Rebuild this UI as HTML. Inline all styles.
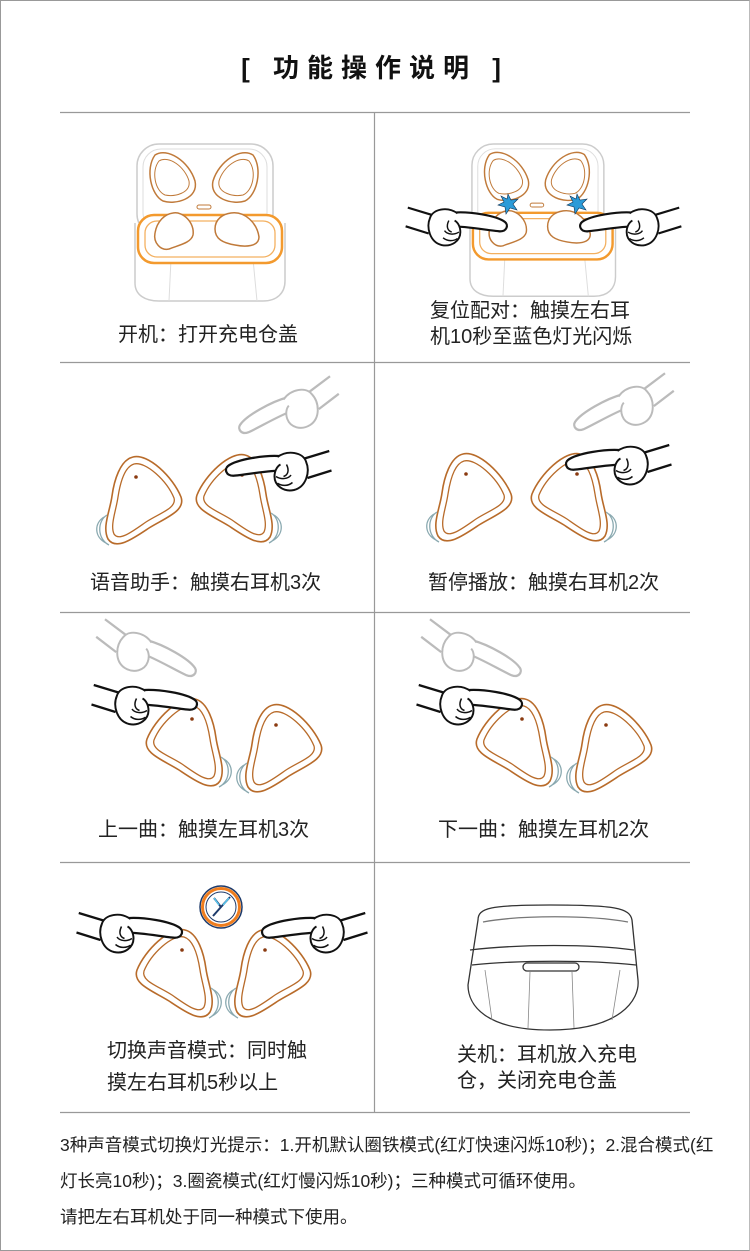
<!DOCTYPE html>
<html><head><meta charset="utf-8"><style>
html,body{margin:0;padding:0;background:#fff}
body{width:750px;height:1251px;position:relative;overflow:hidden;font-family:"Liberation Sans","Noto Sans CJK SC",sans-serif;color:#222}
.frame{position:absolute;left:0;top:0;width:748px;height:1249px;border:1px solid #999;border-right-color:#bbb}
.t{position:absolute;white-space:nowrap}
svg{position:absolute;left:0;top:0}
</style></head><body>
<div class="frame"></div>
<svg width="750" height="1251" viewBox="0 0 750 1251">
<defs>
 <g id="bud">
  <path d="M30,2 C45,-2 70,22 78,42 C83,56 62,63 46,73 C31,83 13,96 5,84 C-1,72 7,56 9,41 C11,26 17,5 30,2 Z" fill="#fff" stroke="#b86b2a" stroke-width="1.6"/>
  <path d="M31,9 C43,6 64,26 71,43 C74,53 57,58 43,67 C30,76 16,87 11,79 C7,70 13,56 15,42 C17,29 21,12 31,9 Z" fill="none" stroke="#b86b2a" stroke-width="1.3"/>
  <circle cx="33" cy="22" r="1.8" fill="#8a3a10"/>
  <path d="M4,60 C-6,66 -6,84 6,90 M1,62 C-9,68 -9,82 3,88" fill="none" stroke="#8aa9b0" stroke-width="1.3"/>
 </g>
 <g id="hand">
  <path d="M0,0 C12,-9 50,-15 72,-13 L74,6 C52,6 22,12 7,13 C-3,13 -5,4 0,0 Z" fill="#fff" stroke="#111" stroke-width="3"/>
  <path d="M66,-12 C80,-22 100,-18 104,-6 C110,8 104,28 88,32 C74,35 62,26 62,14 C62,6 66,0 70,-2" fill="#fff" stroke="#111" stroke-width="2.6"/>
  <path d="M64,14 C70,18 80,18 84,12 M66,23 C72,27 80,27 86,22 M78,-2 C82,6 80,12 74,14" fill="none" stroke="#111" stroke-width="2"/>
  <path d="M102,-10 L135,-20 M106,16 L138,6" stroke="#111" stroke-width="3"/>
 </g>
 <g id="handg">
  <path d="M0,0 C12,-9 50,-15 72,-13 L74,6 C52,6 22,12 7,13 C-3,13 -5,4 0,0 Z" fill="#fff" stroke="#bbb" stroke-width="3"/>
  <path d="M66,-12 C80,-22 100,-18 104,-6 C110,8 104,28 88,32 C74,35 62,26 62,14 C62,6 66,0 70,-2" fill="#fff" stroke="#bbb" stroke-width="2.6"/>
  <path d="M102,-10 L135,-20 M106,16 L138,6" stroke="#bbb" stroke-width="3"/>
 </g>
 <g id="case">
  <rect x="2" y="1" width="136" height="92" rx="22" fill="#fff" stroke="#ccc" stroke-width="1.5"/>
  <rect x="8" y="6" width="124" height="82" rx="18" fill="none" stroke="#ddd" stroke-width="1"/>
  <path d="M0,80 L0,140 C0,152 10,158 24,158 L128,158 C142,158 150,150 150,138 L150,80" fill="#fff" stroke="#ccc" stroke-width="1.5"/>
  <path d="M36,116 L34,158 M118,116 L122,158" stroke="#ddd" stroke-width="1"/>
  <rect x="3" y="72" width="144" height="48" rx="16" fill="#fff" stroke="#f39a2e" stroke-width="2.5"/>
  <rect x="10" y="78" width="130" height="36" rx="12" fill="none" stroke="#f3b060" stroke-width="1.3"/>
  <path d="M20,12 C32,4 54,18 60,38 C64,56 40,62 28,58 C16,52 10,26 20,12 Z" fill="#fff" stroke="#c07a3a" stroke-width="1.5"/>
  <path d="M24,18 C34,12 50,24 54,38 C56,50 40,54 30,52 C20,48 16,28 24,18 Z" fill="none" stroke="#c07a3a" stroke-width="1"/>
  <path d="M118,12 C106,4 84,18 78,38 C74,56 98,62 110,58 C122,52 128,26 118,12 Z" fill="#fff" stroke="#c07a3a" stroke-width="1.5"/>
  <path d="M114,18 C104,12 88,24 84,38 C82,50 98,54 108,52 C118,48 122,28 114,18 Z" fill="none" stroke="#c07a3a" stroke-width="1"/>
  <rect x="62" y="62" width="14" height="4" rx="2" fill="none" stroke="#c07a3a"/>
  <path d="M38,70 C48,68 60,80 58,92 C56,100 44,102 34,106 C26,108 18,100 20,90 C22,78 30,71 38,70 Z" fill="#fff" stroke="#c07a3a" stroke-width="1.5"/>
  <path d="M96,70 C110,68 122,80 124,94 C124,104 110,104 100,102 C88,100 80,96 80,86 C80,76 88,71 96,70 Z" fill="#fff" stroke="#c07a3a" stroke-width="1.5"/>
 </g>
</defs>
<g stroke="#999" stroke-width="1.2">
 <line x1="60" y1="112.5" x2="690" y2="112.5"/>
 <line x1="60" y1="362.5" x2="690" y2="362.5"/>
 <line x1="60" y1="612.5" x2="690" y2="612.5"/>
 <line x1="60" y1="862.5" x2="690" y2="862.5"/>
 <line x1="60" y1="1112.5" x2="690" y2="1112.5"/>
 <line x1="374.5" y1="112" x2="374.5" y2="1112"/>
</g>
<!-- row 1 -->
<use href="#case" transform="translate(135,143)"/>
<use href="#case" transform="translate(470,143) scale(0.97)"/>
<use href="#hand" transform="translate(505,222) scale(-0.72,0.72)"/>
<use href="#hand" transform="translate(582,222) scale(0.72,0.72)"/>
<polygon points="508,194 511,200 518,199 513,204 517,210 510,208 506,214 505,207 498,205 504,202 501,196 507,199" fill="#2b9bd8" stroke="#135" stroke-width="0.6"/>
<polygon points="577,194 580,200 587,199 582,204 586,210 579,208 575,214 574,207 567,205 573,202 570,196 576,199" fill="#2b9bd8" stroke="#135" stroke-width="0.6"/>
<!-- row 2 left -->
<use href="#bud" transform="translate(103,455)"/>
<use href="#bud" transform="translate(275,453) scale(-1,1)"/>
<use href="#handg" transform="translate(240,425) rotate(-20) scale(0.75)"/>
<use href="#hand" transform="translate(228,466) scale(0.75)"/>
<!-- row 2 right -->
<use href="#bud" transform="translate(433,452)"/>
<use href="#bud" transform="translate(610,452) scale(-1,1)"/>
<use href="#handg" transform="translate(575,422) rotate(-20) scale(0.75)"/>
<use href="#hand" transform="translate(568,460) scale(0.75)"/>
<!-- row 3 left -->
<use href="#bud" transform="translate(225,697) scale(-1,1)"/>
<use href="#bud" transform="translate(243,703)"/>
<use href="#handg" transform="translate(195,668) scale(-0.75,0.75) rotate(-20)"/>
<use href="#hand" transform="translate(195,700) scale(-0.75,0.75)"/>
<!-- row 3 right -->
<use href="#bud" transform="translate(555,697) scale(-1,1)"/>
<use href="#bud" transform="translate(573,703)"/>
<use href="#handg" transform="translate(520,668) scale(-0.75,0.75) rotate(-20)"/>
<use href="#hand" transform="translate(520,700) scale(-0.75,0.75)"/>
<!-- row 4 left -->
<use href="#bud" transform="translate(215,928) scale(-1,1)"/>
<use href="#bud" transform="translate(232,928)"/>
<use href="#hand" transform="translate(180,928) scale(-0.75,0.75)"/>
<use href="#hand" transform="translate(264,928) scale(0.75)"/>
<circle cx="221" cy="907" r="21" fill="#fff" stroke="#1d3a6a" stroke-width="1.5"/>
<circle cx="221" cy="907" r="18.5" fill="#fff" stroke="#ef7d1e" stroke-width="3"/>
<circle cx="221" cy="907" r="15" fill="#fff" stroke="#1d3a6a" stroke-width="1"/>
<path d="M221,907 L214,898 M221,907 L230,897 M221,907 L213,916" stroke="#1d3a6a" stroke-width="2"/>
<path d="M219,905 L214,898 M223,905 L229,898" stroke="#5ac8f0" stroke-width="1.5"/>
<!-- row 4 right box -->
<g fill="none" stroke="#333" stroke-width="1.3">
 <path d="M478,920 C478,908 490,905 550,905 C615,905 630,908 632,920 L638,980 C640,1000 620,1030 550,1030 C485,1030 468,1005 468,985 Z" fill="#fff"/>
 <path d="M470,950 C520,944 590,944 634,950"/>
 <path d="M472,965 C520,960 590,960 636,965"/>
 <path d="M483,922 C520,915 590,915 628,922" stroke="#777"/>
 <rect x="523" y="963" width="56" height="8" rx="4" fill="#fff"/>
 <path d="M485,970 L492,1020 M620,970 L612,1020 M530,972 L528,1028 M572,972 L574,1028" stroke="#888" stroke-width="0.8"/>
</g>
</svg>
<div class="t" style="left:0;width:750px;text-align:center;top:48px;font-size:26px;font-weight:bold;letter-spacing:8px;color:#111">[ 功能操作说明 ]</div>
<div class="t" style="left:118px;top:318px;font-size:20px">开机：打开充电仓盖</div>
<div class="t" style="left:430px;top:298px;font-size:20px;line-height:26px">复位配对：触摸左右耳<br>机10秒至蓝色灯光闪烁</div>
<div class="t" style="left:90px;top:566px;font-size:20px">语音助手：触摸右耳机3次</div>
<div class="t" style="left:428px;top:566px;font-size:20px">暂停播放：触摸右耳机2次</div>
<div class="t" style="left:98px;top:813px;font-size:20px">上一曲：触摸左耳机3次</div>
<div class="t" style="left:438px;top:813px;font-size:20px">下一曲：触摸左耳机2次</div>
<div class="t" style="left:107px;top:1035px;font-size:20px;line-height:32px">切换声音模式：同时触<br>摸左右耳机5秒以上</div>
<div class="t" style="left:457px;top:1042px;font-size:20px;line-height:26px">关机：耳机放入充电<br>仓，关闭充电仓盖</div>
<div class="t" style="left:60px;top:1127px;font-size:17.5px;line-height:36px">3种声音模式切换灯光提示：1.开机默认圈铁模式(红灯快速闪烁10秒)；2.混合模式(红<br>灯长亮10秒)；3.圈瓷模式(红灯慢闪烁10秒)；三种模式可循环使用。<br>请把左右耳机处于同一种模式下使用。</div>
</body></html>
